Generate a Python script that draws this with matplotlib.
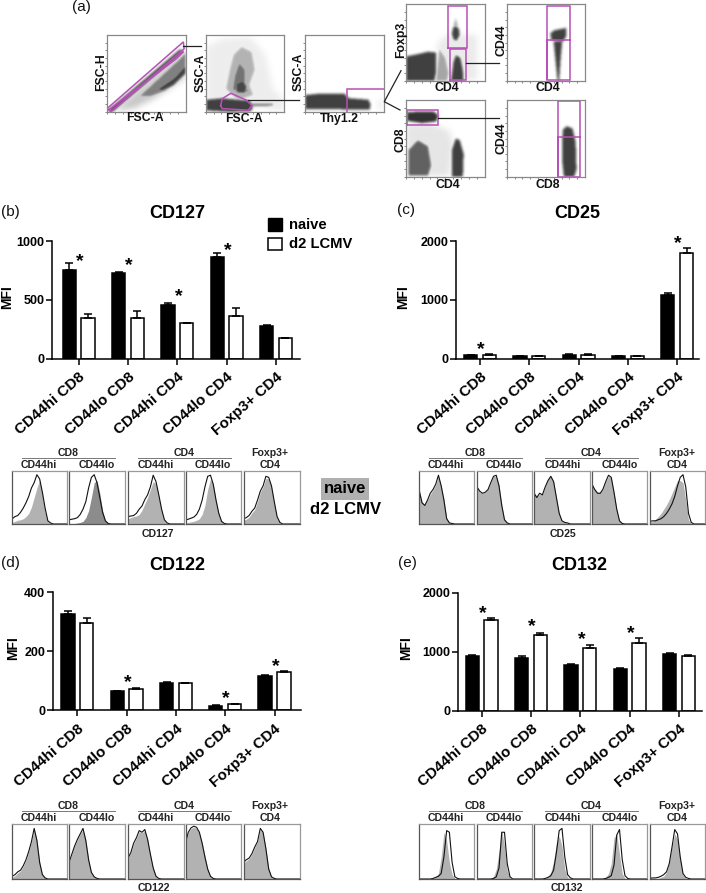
import numpy as np
import matplotlib
matplotlib.use("Agg")
import matplotlib.pyplot as plt
from matplotlib.path import Path
from matplotlib.transforms import ScaledTranslation

plt.rcParams['font.family'] = ['Liberation Sans', 'DejaVu Sans']

W, H = 706, 893

# ----------------------------
# Bar chart values
# ----------------------------
cell_labels = ['CD44hi CD8', 'CD44lo CD8', 'CD44hi CD4', 'CD44lo CD4', 'Foxp3+ CD4']

cd127_naive = [750, 730, 460, 860, 280]
cd127_naive_err = [60, 3, 12, 35, 5]
cd127_lcmv = [350, 345, 300, 365, 175]
cd127_lcmv_err = [28, 60, 5, 65, 5]
cd127_star_pos = [0, 1, 2, 3]
cd127_star_val = [866, 833, 570, 966]

cd25_naive = [55, 40, 70, 40, 1090]
cd25_naive_err = [5, 5, 5, 5, 25]
cd25_lcmv = [70, 40, 70, 40, 1800]
cd25_lcmv_err = [5, 5, 5, 5, 85]
cd25_star_pos = [0, 4]
cd25_star_val = [250, 2045]

cd122_naive = [328, 65, 94, 16, 117]
cd122_naive_err = [8, 1, 2, 1, 2]
cd122_lcmv = [296, 73, 91, 21, 130]
cd122_lcmv_err = [18, 1, 3, 1, 2]
cd122_star_pos = [1, 3, 4]
cd122_star_val = [112, 58, 165]

cd132_naive = [935, 895, 775, 700, 960]
cd132_naive_err = [5, 40, 10, 30, 10]
cd132_lcmv = [1540, 1285, 1070, 1150, 935]
cd132_lcmv_err = [35, 40, 45, 75, 5]
cd132_star_pos = [0, 1, 2, 3]
cd132_star_val = [1734, 1508, 1300, 1390]

# ----------------------------
# Histogram heights, one value every 5% of the x range, rest is zero
# ----------------------------
cd127_hist_grey = [
    [3, 5, 7, 8, 10, 14, 20, 32, 50, 68, 83, 55, 22, 5, 1],
    [1, 1, 1, 2, 3, 5, 12, 25, 50, 78, 82, 58, 25, 7, 1],
    [10, 12, 14, 15, 18, 26, 38, 50, 65, 80, 76, 52, 26, 6, 1],
    [2, 3, 4, 5, 7, 10, 18, 35, 65, 85, 76, 46, 20, 5, 1],
    [7, 9, 13, 21, 27, 42, 60, 70, 86, 85, 70, 40, 12, 2],
]
cd127_hist_black = [
    [10, 14, 16, 22, 30, 40, 52, 68, 78, 93, 85, 60, 30, 6, 2],
    [8, 9, 10, 12, 18, 28, 42, 68, 88, 93, 78, 50, 22, 6, 1],
    [14, 15, 16, 20, 28, 34, 46, 55, 70, 92, 80, 55, 28, 8, 2],
    [8, 9, 11, 13, 18, 28, 45, 70, 90, 92, 75, 45, 20, 5, 1],
    [10, 12, 16, 24, 30, 45, 62, 72, 90, 88, 72, 42, 14, 3],
]
cd25_hist_grey = [
    [66, 42, 36, 45, 56, 64, 74, 90, 72, 48, 12, 3, 1],
    [70, 60, 58, 60, 66, 78, 90, 90, 74, 37, 9, 2],
    [60, 52, 56, 56, 70, 84, 90, 80, 50, 20, 6, 3, 2],
    [75, 66, 60, 60, 66, 80, 90, 87, 60, 28, 6, 1],
    [4, 5, 9, 14, 20, 28, 36, 46, 58, 70, 82, 82, 78, 45, 8, 1],
]
cd25_hist_black = [
    [62, 40, 35, 45, 58, 65, 75, 92, 72, 45, 10, 2, 1],
    [70, 62, 58, 60, 65, 78, 90, 92, 72, 35, 8, 2],
    [58, 50, 58, 55, 70, 82, 90, 80, 50, 20, 6, 3, 2],
    [75, 65, 58, 58, 66, 80, 92, 88, 60, 28, 6, 1],
    [5, 6, 6, 8, 10, 14, 20, 28, 38, 52, 72, 88, 93, 70, 20, 3],
]
cd122_hist_grey = [
    [3, 6, 11, 15, 23, 34, 50, 68, 90, 72, 32, 8, 2],
    [30, 45, 60, 72, 82, 90, 72, 36, 12, 4, 1],
    [38, 48, 64, 74, 86, 84, 88, 72, 45, 20, 5, 1],
    [65, 84, 92, 94, 92, 84, 66, 42, 18, 5, 1],
    [28, 33, 37, 45, 57, 68, 90, 84, 56, 20, 4, 1],
]
cd122_hist_black = [
    [5, 8, 13, 16, 24, 35, 50, 68, 92, 70, 30, 8, 2],
    [30, 45, 60, 72, 82, 92, 70, 35, 12, 4, 1],
    [38, 48, 65, 75, 88, 85, 90, 72, 45, 20, 5, 1],
    [65, 85, 93, 96, 94, 85, 65, 40, 18, 5, 1],
    [30, 35, 38, 46, 58, 68, 92, 85, 55, 18, 4, 1],
]
cd132_hist_grey = [
    [0, 0, 0, 0, 0, 1, 4, 10, 40, 85, 70, 30, 8, 1],
    [0, 0, 0, 0, 0, 1, 4, 18, 50, 88, 60, 15, 2],
    [0, 0, 0, 0, 1, 4, 12, 32, 65, 78, 60, 18, 3],
    [0, 0, 0, 0, 1, 3, 10, 28, 75, 82, 45, 10, 1],
    [0, 1, 1, 1, 3, 5, 12, 30, 60, 82, 72, 35, 7, 1],
]
cd132_hist_black = [
    [0, 0, 0, 0, 0, 1, 3, 5, 10, 40, 88, 85, 30, 4, 1],
    [0, 0, 0, 0, 0, 0, 1, 4, 20, 85, 85, 28, 4],
    [0, 0, 0, 0, 1, 3, 6, 16, 48, 88, 92, 40, 8, 2],
    [0, 0, 0, 0, 0, 1, 3, 6, 25, 80, 90, 35, 6, 1],
    [1, 2, 2, 3, 5, 8, 13, 28, 58, 90, 82, 40, 10, 3, 1],
]

# ----------------------------
# Flow plots: dense areas as (darkness, xs, ys) in percent of the plot
# ----------------------------
fsch_blobs = [
    (0.22, [7, 97, 100, 100, 60, 35], [0, 80, 84, 45, 18, 5]),
    (0.50, [40, 95, 100, 100, 75, 55], [20, 72, 78, 50, 28, 20]),
    (0.75, [62, 85, 100, 100, 85, 70], [29, 45, 62, 50, 35, 27]),
    (0.72, [1, 93, 97, 7], [2, 82, 78, 0]),
]
fsch_gate_x = [0, 97, 98, 5, 0]
fsch_gate_y = [4, 91, 82, 0, 4]
fsch_gate2_x = [3, 88, 97]
fsch_gate2_y = [3, 69, 78]

ssc_blobs = [
    (0.07, [0, 0, 20, 55, 75, 85, 100, 100], [15, 85, 95, 98, 75, 30, 15, 0]),
    (0.30, [25, 30, 35, 45, 58, 62, 55, 60, 40], [30, 55, 75, 85, 78, 55, 35, 22, 15]),
    (0.55, [33, 36, 42, 50, 50, 55], [28, 48, 65, 55, 35, 25]),
    (0.72, [38, 37, 47, 52, 50], [25, 37, 42, 33, 24]),
    (0.50, [55, 85, 85, 55], [11, 11, 8, 7]),
    (0.75, [0, 0, 20, 30, 55, 60, 57, 30], [2, 16, 18, 17, 15, 8, 1, 0]),
]
ssc_gate_x = [19, 21, 32, 52, 59, 54, 21, 19]
ssc_gate_y = [8, 17, 24, 15, 8, 2, 4, 8]

thy_blobs = [
    (0.12, [94, 98, 98, 94], [3, 3, 16, 16]),
    (0.75, [0, 0, 20, 50, 55, 80, 83, 82], [4, 22, 24, 24, 18, 16, 10, 3]),
]
thy_gate_x = [53, 53, 100]
thy_gate_y = [0, 30, 30]

foxp3_blobs = [
    (0.08, [38, 40, 55, 90, 90, 55], [0, 50, 62, 60, 0, 0]),
    (0.35, [38, 42, 50, 54, 52], [0, 42, 30, 10, 0]),
    (0.35, [60, 63, 66], [70, 82, 70]),
    (0.75, [58, 60, 63, 67, 68, 64, 60], [62, 70, 72, 68, 60, 52, 54]),
    (0.75, [0, 0, 15, 28, 38, 38, 36], [0, 32, 35, 38, 37, 10, 0]),
    (0.75, [57, 60, 63, 69, 72, 73], [0, 25, 34, 30, 15, 0]),
]
foxp3_gate1_x = [54, 77, 77, 54, 54]
foxp3_gate1_y = [43, 43, 98, 98, 43]
foxp3_gate2_x = [56, 76, 76, 56, 56]
foxp3_gate2_y = [1, 1, 41, 41, 1]

cd44_cd4_blobs = [
    (0.75, [56, 55, 60, 75, 75, 70], [53, 62, 66, 69, 58, 50]),
    (0.75, [59, 70, 68, 66, 64], [52, 52, 30, 0, 0]),
]
cd44_cd4_gate_x = [52, 81, 81, 52, 52, 52, 81]
cd44_cd4_gate_y = [1, 1, 98, 98, 1, 53, 53]

cd8_blobs = [
    (0.10, [0, 0, 30, 55, 60, 55], [0, 70, 70, 60, 40, 0]),
    (0.62, [3, 3, 15, 28, 32, 28], [2, 35, 48, 40, 15, 2]),
    (0.75, [58, 58, 63, 68, 73, 72], [0, 35, 50, 48, 30, 0]),
    (0.80, [1, 1, 15, 35, 41, 38, 20], [73, 84, 85, 85, 80, 72, 70]),
]
cd8_gate_x = [1, 41, 41, 1, 1]
cd8_gate_y = [68, 68, 87, 87, 68]

cd44_cd8_blobs = [
    (0.75, [72, 70, 70, 71, 76, 83, 87, 88, 85], [0, 20, 50, 62, 66, 63, 45, 10, 0]),
]
cd44_cd8_gate_x = [66, 94, 94, 66, 66, 66, 94]
cd44_cd8_gate_y = [0, 0, 99, 99, 0, 52, 52]

# ----------------------------
# Helpers
# ----------------------------
fig = plt.figure(figsize=(W / 100, H / 100), dpi=100)


def px_axes(x0, y0, x1, y1, **kw):
    # axes from pixel box, y counted from the top like in the image
    return fig.add_axes([x0 / W, 1 - y1 / H, (x1 - x0) / W, (y1 - y0) / H], **kw)


def bar_panel(y_axis_x, y_top, y_zero, first_tick, right_end, ymax, yticks,
              naive, naive_err, lcmv, lcmv_err, star_pos, star_val):
    spacing = 49.3
    ax = px_axes(y_axis_x, y_top, right_end, y_zero)
    ax.set_xlim((y_axis_x - first_tick) / spacing, (right_end - first_tick) / spacing)
    ax.set_ylim(0, ymax)
    pos = np.arange(len(cell_labels))
    ax.bar(pos - 0.19, naive, 0.27, color='black', edgecolor='black', linewidth=1.1,
           yerr=[np.zeros(5), naive_err], error_kw=dict(ecolor='black', elinewidth=1.1, capsize=3.2, capthick=1.1))
    ax.bar(pos + 0.19, lcmv, 0.27, color='white', edgecolor='black', linewidth=1.1,
           yerr=[np.zeros(5), lcmv_err], error_kw=dict(ecolor='black', elinewidth=1.1, capsize=3.2, capthick=1.1))
    for s in ['top', 'right']:
        ax.spines[s].set_visible(False)
    for s in ['left', 'bottom']:
        ax.spines[s].set_linewidth(1.1)
    ax.set_yticks(yticks)
    ax.set_yticklabels([str(v) for v in yticks], fontsize=9, fontweight='bold')
    ax.set_xticks(pos)
    ax.set_xticklabels(cell_labels, rotation=41, ha='right', rotation_mode='anchor',
                       fontsize=10.9, fontweight='bold')
    # the rotated labels end a little left of their ticks
    shift = ScaledTranslation(-3.5 / 100, 1 / 100, fig.dpi_scale_trans)
    for lab in ax.get_xticklabels():
        lab.set_transform(lab.get_transform() + shift)
    ax.tick_params(axis='y', length=4, width=1.1, pad=1.5)
    ax.tick_params(axis='x', length=4, width=1.1, pad=4)
    for p, v in zip(star_pos, star_val):
        ax.annotate('*', (p + 0.02, v), xytext=(0, -7), textcoords='offset points',
                    ha='center', va='baseline', fontsize=14, fontweight='bold', annotation_clip=False)
    return ax


def hist_panel(x_boxes, y_top, y_bot, grey, black, grey_col='#b2b2b2'):
    for i, (x0, x1) in enumerate(x_boxes):
        ax = px_axes(x0, y_top, x1, y_bot)
        g = np.array(grey[i] + [0], float)
        b = np.array(black[i] + [0], float)
        col = grey_col[i] if isinstance(grey_col, list) else grey_col
        ax.fill_between(np.arange(len(g)) * 5, g, 0, color=col, lw=0)
        ax.plot(np.r_[np.arange(len(b)) * 5, 100], np.r_[b, 0], color='#111111', lw=0.8)
        ax.set_xlim(0, 100)
        ax.set_ylim(0, 100)
        ax.set_xticks([])
        ax.set_yticks([])
        for s in ['top', 'right']:
            ax.spines[s].set_color('#999999')
            ax.spines[s].set_linewidth(0.9)
        for s in ['left', 'bottom']:
            ax.spines[s].set_color('#555555')
            ax.spines[s].set_linewidth(0.9)


def blur(a, radius):
    # box blur run three times, close enough to a gaussian
    kernel = np.ones(2 * radius + 1) / (2 * radius + 1)
    for _ in range(3):
        a = np.apply_along_axis(lambda v: np.convolve(v, kernel, mode='same'), 0, a)
        a = np.apply_along_axis(lambda v: np.convolve(v, kernel, mode='same'), 1, a)
    return a


def flow_plot(box, blobs, gates):
    ax = px_axes(*box)
    # soft density picture from the outlines, the dots of the original are not reproduced
    grid = (np.arange(160) + 0.5) * 100 / 160
    gx, gy = np.meshgrid(grid, grid)
    pts = np.c_[gx.ravel(), gy.ravel()]
    dark = np.zeros_like(gx)
    for d, xs, ys in blobs:
        mask = Path(np.c_[xs, ys]).contains_points(pts).reshape(gx.shape).astype(float)
        radius = 6 if d < 0.3 else 2
        dark = np.maximum(dark, d * blur(mask, radius))
    ax.imshow(1 - dark, cmap='gray', vmin=0, vmax=1, extent=(0, 100, 0, 100), origin='lower',
              aspect='auto', interpolation='bilinear')
    for px, py in gates:
        ax.plot(px, py, color='#b94fb8', lw=1.1, solid_joinstyle='miter')
    ax.set_xlim(0, 100)
    ax.set_ylim(0, 100)
    ax.set_xticks([0, 10, 20, 30, 40, 50, 60, 70, 80, 90])
    ax.set_yticks([0, 10, 20, 30, 40, 50, 60, 70, 80, 90])
    ax.tick_params(length=1.2, width=0.5, labelbottom=False, labelleft=False, color='#555555')
    for s in ax.spines.values():
        s.set_color('#888888')
        s.set_linewidth(0.9)
    return ax


# ----------------------------
# Panel (a)
# ----------------------------
flow_plot((107, 35, 185.7, 111.7), fsch_blobs, [(fsch_gate_x, fsch_gate_y), (fsch_gate2_x, fsch_gate2_y)])
flow_plot((205.7, 35, 284.3, 111.7), ssc_blobs, [(ssc_gate_x, ssc_gate_y)])
flow_plot((305, 35, 383.7, 111.7), thy_blobs, [(thy_gate_x, thy_gate_y)])
flow_plot((406, 4.3, 484.7, 80.7), foxp3_blobs, [(foxp3_gate1_x, foxp3_gate1_y), (foxp3_gate2_x, foxp3_gate2_y)])
flow_plot((506.7, 4.3, 585, 80.7), cd44_cd4_blobs, [(cd44_cd4_gate_x, cd44_cd4_gate_y)])
flow_plot((406, 100.3, 484.7, 176.7), cd8_blobs, [(cd8_gate_x, cd8_gate_y)])
flow_plot((506.7, 100.3, 585, 176.7), cd44_cd8_blobs, [(cd44_cd8_gate_x, cd44_cd8_gate_y)])

# ----------------------------
# Bar panels
# ----------------------------
bar_panel(52, 241, 358.7, 78.7, 300, 1000, [0, 500, 1000],
          cd127_naive, cd127_naive_err, cd127_lcmv, cd127_lcmv_err, cd127_star_pos, cd127_star_val)
bar_panel(455.7, 241, 358.7, 480, 699, 2000, [0, 1000, 2000],
          cd25_naive, cd25_naive_err, cd25_lcmv, cd25_lcmv_err, cd25_star_pos, cd25_star_val)
bar_panel(52.7, 592.3, 710.3, 77.3, 301, 400, [0, 200, 400],
          cd122_naive, cd122_naive_err, cd122_lcmv, cd122_lcmv_err, cd122_star_pos, cd122_star_val)
bar_panel(457.7, 592.7, 710.7, 481.7, 701.7, 2000, [0, 1000, 2000],
          cd132_naive, cd132_naive_err, cd132_lcmv, cd132_lcmv_err, cd132_star_pos, cd132_star_val)

# ----------------------------
# Histogram rows
# ----------------------------
left_boxes = [(12.3, 67), (69, 125), (128, 184), (185.5, 241), (243.5, 299.5)]
right_boxes = [(419.3, 474), (477, 532), (534, 590), (592, 647), (650, 705)]
hist_panel(left_boxes, 471, 524, cd127_hist_grey, cd127_hist_black,
           grey_col=['#b2b2b2', '#8c8c8c', '#b2b2b2', '#b2b2b2', '#b2b2b2'])
hist_panel(right_boxes, 471, 524, cd25_hist_grey, cd25_hist_black)
hist_panel(left_boxes, 824, 879, cd122_hist_grey, cd122_hist_black)
hist_panel(right_boxes, 824, 879, cd132_hist_grey, cd132_hist_black)

# ----------------------------
# Overlay in image pixels for text and connector lines
# ----------------------------
ov = fig.add_axes([0, 0, 1, 1], facecolor='none')
ov.set_xlim(0, W)
ov.set_ylim(H, 0)
ov.axis('off')


def bold(x, y, s, size, rot=0, col='#111111'):
    ov.text(x, y, s, fontsize=size, fontweight='bold', ha='center', va='center', rotation=rot, color=col)


def hist_head(x0, top, bottom_label, label_dx, name):
    for dx, s in [(56, 'CD8'), (172, 'CD4')]:
        bold(x0 + dx, top - 18, s, 7.6, col='#222222')
    ov.plot([x0 + 10, x0 + 103], [top - 13, top - 13], color='#777777', lw=0.7)
    ov.plot([x0 + 126, x0 + 219], [top - 13, top - 13], color='#777777', lw=0.7)
    for dx, s in [(27, 'CD44hi'), (85, 'CD44lo'), (144, 'CD44hi'), (201, 'CD44lo')]:
        bold(x0 + dx, top - 6, s, 7.6, col='#222222')
    bold(x0 + 258, top - 18, 'Foxp3+', 7.6, col='#222222')
    bold(x0 + 258, top - 6, 'CD4', 7.6, col='#222222')
    bold(x0 + label_dx, bottom_label, name, 7.6, col='#222222')


hist_head(12, 471, 534, 146, 'CD127')
hist_head(419, 471, 534, 144, 'CD25')
hist_head(12, 824, 888, 142, 'CD122')
hist_head(419, 824, 888, 148, 'CD132')

# flow plot labels
for x, y, s in [(145, 118, 'FSC-A'), (244, 119, 'FSC-A'), (339, 119, 'Thy1.2'), (447, 88, 'CD4'),
                (548, 88, 'CD4'), (448, 185, 'CD4'), (548, 185, 'CD8')]:
    bold(x, y, s, 8.8)
for x, y, s in [(101, 72, 'FSC-H'), (200.7, 73, 'SSC-A'), (299, 72, 'SSC-A'), (401, 40, 'Foxp3'),
                (501.7, 40, 'CD44'), (401, 140, 'CD8'), (501.7, 138, 'CD44')]:
    bold(x, y, s, 8.8, rot=90)

# connector lines
for xs, ys in [([183, 201], [46, 46]), ([248, 299], [100, 100]), ([401, 384.3, 400], [70.7, 101.7, 110]),
               ([465.7, 499], [63.3, 63.3]), ([438, 499], [118, 118])]:
    ov.plot(xs, ys, color='#222222', lw=0.9)

# titles and panel letters
for x, y, s in [(177, 213, 'CD127'), (577, 213, 'CD25'), (177, 565, 'CD122'), (579, 565, 'CD132')]:
    bold(x, y, s, 13, col='black')
for x, y, s in [(81, 7, '(a)'), (10, 212, '(b)'), (406, 210, '(c)'), (10, 563, '(d)'), (407, 563, '(e)')]:
    ov.text(x, y, s, fontsize=11, ha='center', va='center', color='#111111')
for x, y in [(7, 297), (403, 297), (13, 648), (406, 648)]:
    bold(x, y, 'MFI', 10, rot=90, col='black')

# legend
ov.fill([268, 282, 282, 268], [218, 218, 231, 231], fc='black', ec='black', lw=1)
ov.fill([268, 282, 282, 268], [238, 238, 250, 250], fc='white', ec='black', lw=1.1)
ov.text(289, 225, 'naive', fontsize=10.6, fontweight='bold', va='center')
ov.text(289, 244, 'd2 LCMV', fontsize=10.6, fontweight='bold', va='center')
ov.fill([321, 369, 369, 321], [478, 478, 500, 500], fc='#b0b0b0', ec='none')
bold(345, 488.5, 'naive', 12, col='black')
bold(345.5, 509, 'd2 LCMV', 12, col='black')

fig.savefig('out.png', dpi=100)
